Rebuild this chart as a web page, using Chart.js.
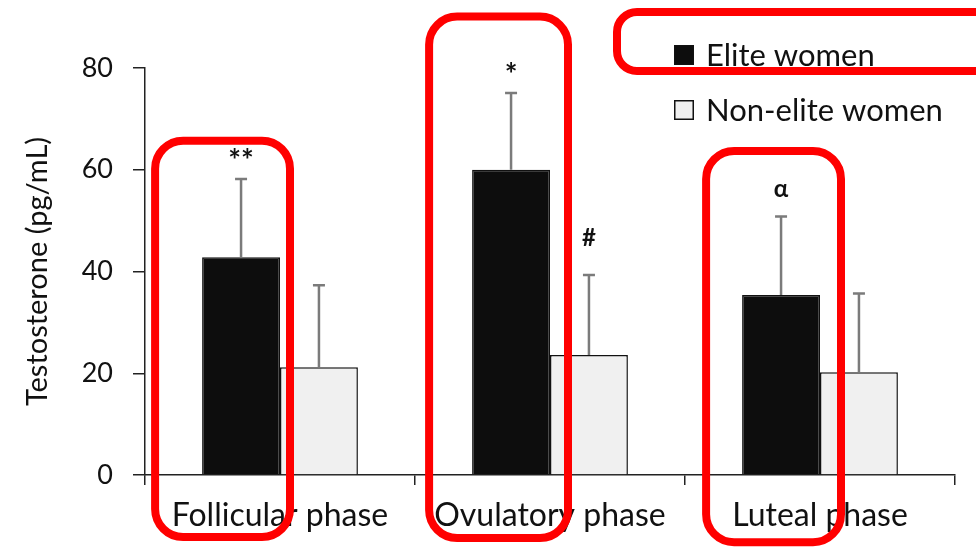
<!DOCTYPE html>
<html>
<head>
<meta charset="utf-8">
<script src="https://cdn.jsdelivr.net/npm/chart.js@4.4.1/dist/chart.umd.min.js"></script>
<style>
  html, body { margin: 0; padding: 0; background: #ffffff; }
  #wrap { width: 976px; height: 549px; }
</style>
</head>
<body>
<div id="wrap"><canvas id="c" width="976" height="549"></canvas></div>
<script>
// Serum testosterone by menstrual-cycle phase (mean ± SD, pg/mL)
const phases = ['Follicular phase', 'Ovulatory phase', 'Luteal phase'];
const seriesNames = ['Elite women', 'Non-elite women'];
const eliteMean = [42.8, 60.0, 35.4];
const eliteSD = [15.4, 15.1, 15.4];
const nonEliteMean = [21.2, 23.6, 20.2];
const nonEliteSD = [16.1, 15.7, 15.5];
const eliteMarks = ['**', '*', 'α'];
const nonEliteMarks = ['', '#', ''];
const yTicks = [0, 20, 40, 60, 80];

// Drawing styles
const FONT = 'Lato, "Open Sans", sans-serif';
const INK = '#111111';
const AXIS = '#222222';
const ERR_COLOR = '#7b7b7b';
const HILITE = '#ff0000';
const markGap = [27, 37];          // px between error-bar cap and its significance mark, per series
const asteriskDrop = 9;            // asterisks sit high in the glyph box; pull them down to the centre
// Red highlight frames around the elite bars: horizontal padding in px, vertical extent in axis units
const frames = [
  { padL: 47, padR: 10, top: 65.7, bottom: -12.2 },
  { padL: 43, padR: 18, top: 90.1, bottom: -12.4 },
  { padL: 36, padR: 21, top: 63.7, bottom: -13.2 }
];
const legendStyle = { x: 674, y: 55, rowGap: 55, box: 20, textGap: 32, size: 31 };

const errorBars = {
  id: 'errorBars',
  afterDatasetsDraw(chart) {
    const ctx = chart.ctx;
    const y = chart.scales.y;
    const sds = [eliteSD, nonEliteSD];
    const means = [eliteMean, nonEliteMean];
    const marks = [eliteMarks, nonEliteMarks];
    ctx.save();
    chart.data.datasets.forEach((ds, d) => {
      const meta = chart.getDatasetMeta(d);
      meta.data.forEach((bar, i) => {
        const top = y.getPixelForValue(means[d][i] + sds[d][i]);
        ctx.strokeStyle = ERR_COLOR;
        ctx.lineWidth = 2.5;
        ctx.beginPath();
        ctx.moveTo(bar.x, bar.y);
        ctx.lineTo(bar.x, top);
        ctx.moveTo(bar.x - 6, top);
        ctx.lineTo(bar.x + 6, top);
        ctx.stroke();
        const m = marks[d][i];
        if (m) {
          const isStar = m.indexOf('*') >= 0;
          ctx.fillStyle = INK;
          ctx.font = 'bold ' + (isStar ? 30 : 24) + 'px ' + FONT;
          ctx.textAlign = 'center';
          ctx.textBaseline = 'middle';
          ctx.fillText(m, bar.x, top - markGap[d] + (isStar ? asteriskDrop : 0));
        }
      });
    });
    ctx.restore();
  }
};

const sideLegend = {
  id: 'sideLegend',
  afterDraw(chart) {
    const ctx = chart.ctx;
    const L = legendStyle;
    ctx.save();
    chart.data.datasets.forEach((ds, d) => {
      const cy = L.y + d * L.rowGap;
      ctx.fillStyle = ds.backgroundColor;
      ctx.fillRect(L.x, cy - L.box / 2, L.box, L.box);
      ctx.strokeStyle = '#111';
      ctx.lineWidth = 1.5;
      ctx.strokeRect(L.x + 0.75, cy - L.box / 2 + 0.75, L.box - 1.5, L.box - 1.5);
      ctx.fillStyle = INK;
      ctx.font = L.size + 'px ' + FONT;
      ctx.textAlign = 'left';
      ctx.textBaseline = 'middle';
      ctx.fillText(ds.label, L.x + L.textGap, cy + 1);
    });
    ctx.restore();
  }
};

function roundRect(ctx, x0, y0, x1, y1, r) {
  ctx.beginPath();
  ctx.moveTo(x0 + r, y0);
  ctx.lineTo(x1 - r, y0);
  ctx.arcTo(x1, y0, x1, y0 + r, r);
  ctx.lineTo(x1, y1 - r);
  ctx.arcTo(x1, y1, x1 - r, y1, r);
  ctx.lineTo(x0 + r, y1);
  ctx.arcTo(x0, y1, x0, y1 - r, r);
  ctx.lineTo(x0, y0 + r);
  ctx.arcTo(x0, y0, x0 + r, y0, r);
  ctx.closePath();
  ctx.stroke();
}

const highlights = {
  id: 'highlights',
  afterDraw(chart) {
    const ctx = chart.ctx;
    const y = chart.scales.y;
    const meta = chart.getDatasetMeta(0);
    ctx.save();
    ctx.strokeStyle = HILITE;
    ctx.lineWidth = 8;
    meta.data.forEach((bar, i) => {
      const f = frames[i];
      roundRect(ctx,
        bar.x - bar.width / 2 - f.padL,
        y.getPixelForValue(f.top),
        bar.x + bar.width / 2 + f.padR,
        y.getPixelForValue(f.bottom),
        28);
    });
    // frame around the first legend entry
    const L = legendStyle;
    roundRect(ctx, L.x - 57, L.y - 43, L.x + 320, L.y + 16, 20);
    ctx.restore();
  }
};

new Chart(document.getElementById('c'), {
  type: 'bar',
  data: {
    labels: phases,
    datasets: [
      { label: seriesNames[0], data: eliteMean, backgroundColor: '#0d0d0d',
        borderColor: '#111', borderWidth: 1.5 },
      { label: seriesNames[1], data: nonEliteMean, backgroundColor: '#f0f0f0',
        borderColor: '#111', borderWidth: 1.5 }
    ]
  },
  options: {
    responsive: false,
    animation: false,
    devicePixelRatio: 1,
    layout: { padding: { top: 68, right: 21, bottom: 0, left: 0 } },
    datasets: { bar: { categoryPercentage: 0.577, barPercentage: 1.0 } },
    plugins: { legend: { display: false }, tooltip: { enabled: false } },
    scales: {
      x: {
        grid: { drawOnChartArea: false, drawTicks: true, tickLength: 10, color: AXIS, lineWidth: 1.5, offset: true },
        border: { display: true, color: AXIS, width: 1.5 },
        ticks: { font: { family: FONT, size: 32 }, color: INK, padding: 11, maxRotation: 0, autoSkip: false },
        afterFit(s) { s.height = 74; }
      },
      y: {
        min: 0, max: 80,
        afterBuildTicks(s) { s.ticks = yTicks.map(v => ({ value: v })); },
        grid: { drawOnChartArea: false, drawTicks: true, tickLength: 12, color: AXIS, lineWidth: 1.5 },
        border: { display: true, color: AXIS, width: 1.5 },
        ticks: { font: { family: FONT, size: 27 }, color: INK, padding: 20 },
        title: { display: true, text: 'Testosterone (pg/mL)', font: { family: FONT, size: 29 }, color: INK,
                 padding: { top: 20, bottom: 0 } },
        afterFit(s) { s.width = 145; }
      }
    }
  },
  plugins: [errorBars, sideLegend, highlights]
});
</script>
</body>
</html>
